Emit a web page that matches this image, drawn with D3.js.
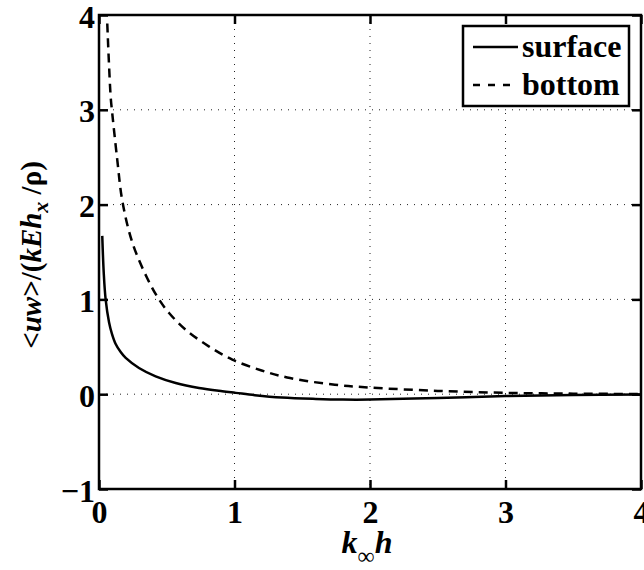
<!DOCTYPE html>
<html><head><meta charset="utf-8">
<script src="https://cdn.jsdelivr.net/npm/d3@7"></script>
<style>body{margin:0;background:#fff}svg{display:block}
svg text{font-family:"Liberation Serif","Times New Roman",Times,"Nimbus Roman","DejaVu Serif",serif !important;font-weight:bold}</style>
</head><body><svg id="c" width="644" height="570"></svg>
<script>
const xTicks = [0,1,2,3,4];
const yTicks = [-1,0,1,2,3,4];
const surfaceX = [0.024,0.035,0.049,0.074,0.095,0.123,0.16,0.197,0.295,0.418,0.566,0.738,0.91,1.01,1.15,1.35,1.6,1.8,2.0,2.5,3.0,3.5,4.0];
const surfaceY = [1.67,1.28,1.0,0.76,0.64,0.53,0.445,0.383,0.277,0.189,0.119,0.066,0.031,0.014,-0.01,-0.035,-0.05,-0.057,-0.057,-0.04,-0.02,-0.008,-0.003];
const bottomX = [0.061,0.086,0.098,0.135,0.172,0.246,0.357,0.443,0.517,0.64,0.81,0.984,1.2,1.41,1.74,2.0,2.5,3.0,3.5,4.0];
const bottomY = [3.91,3.14,2.96,2.47,2.04,1.60,1.22,1.0,0.857,0.68,0.505,0.365,0.25,0.17,0.10,0.07,0.035,0.014,0.006,0.002];
const legendLabels = ["surface","bottom"];

const svg = d3.select("#c");
const L=99,R=641,T=15,B=489;
const x = d3.scaleLinear().domain([0,4]).range([L,R]);
const y = d3.scaleLinear().domain([-1,4]).range([B,T]);

svg.append("defs").append("clipPath").attr("id","clip").append("rect")
  .attr("x",L).attr("y",T).attr("width",R-L).attr("height",B-T);

const g = svg.append("g");
g.selectAll(".gx").data(xTicks.slice(1,-1)).enter().append("line")
  .attr("x1",d=>x(d)).attr("x2",d=>x(d)).attr("y1",T).attr("y2",B)
  .attr("stroke","#222").attr("stroke-width",1).attr("stroke-dasharray","1,6");
g.selectAll(".gy").data(yTicks.slice(1,-1)).enter().append("line")
  .attr("y1",d=>y(d)).attr("y2",d=>y(d)).attr("x1",L).attr("x2",R)
  .attr("stroke","#222").attr("stroke-width",1).attr("stroke-dasharray","1,6");

const tl=9;
const xa = svg.append("g").attr("transform",`translate(0,${B})`)
  .call(d3.axisBottom(x).tickValues(xTicks).tickSizeInner(-tl).tickSizeOuter(0).tickFormat(d3.format("d")));
const xt = svg.append("g").attr("transform",`translate(0,${T})`)
  .call(d3.axisTop(x).tickValues(xTicks).tickSizeInner(-tl).tickSizeOuter(0).tickFormat(""));
const ya = svg.append("g").attr("transform",`translate(${L},0)`)
  .call(d3.axisLeft(y).tickValues(yTicks).tickSizeInner(-tl).tickSizeOuter(0).tickFormat(d=>d<0?"\u2212"+Math.abs(d):d));
const yr = svg.append("g").attr("transform",`translate(${R},0)`)
  .call(d3.axisRight(y).tickValues(yTicks).tickSizeInner(-tl).tickSizeOuter(0).tickFormat(""));
[xa,xt,ya,yr].forEach(a=>{
  a.attr("font-family",null).attr("font-size",null);
  a.select(".domain").remove();
  a.selectAll(".tick line").attr("stroke","#000").attr("stroke-width",2.5);
  a.selectAll("text").attr("fill","#000").style("font-size","32px");
});
ya.selectAll("text").attr("dy",null).attr("x",-4).attr("y",12);
xa.selectAll("text").attr("dy",null).attr("y",34);

const line = d3.line().x(d=>x(d[0])).y(d=>y(d[1])).curve(d3.curveCatmullRom.alpha(0.5));
const plot = svg.append("g").attr("clip-path","url(#clip)");
plot.append("path").datum(surfaceX.map((v,i)=>[v,surfaceY[i]])).attr("d",line)
  .attr("fill","none").attr("stroke","#000").attr("stroke-width",2.5);
plot.append("path").datum(bottomX.map((v,i)=>[v,bottomY[i]])).attr("d",line)
  .attr("fill","none").attr("stroke","#000").attr("stroke-width",2.5).attr("stroke-dasharray","9,6");

svg.append("rect").attr("x",L).attr("y",T).attr("width",R-L).attr("height",B-T)
  .attr("fill","none").attr("stroke","#000").attr("stroke-width",2.5);

const lg = svg.append("g");
lg.append("rect").attr("x",463).attr("y",26).attr("width",166).attr("height",80)
  .attr("fill","#fff").attr("stroke","#000").attr("stroke-width",2.5);
const dashes=[null,"7,8"];
legendLabels.forEach((lab,i)=>{
  const yy=47+i*38;
  lg.append("line").attr("x1",473).attr("x2",518).attr("y1",yy).attr("y2",yy)
    .attr("stroke","#000").attr("stroke-width",2.5).attr("stroke-dasharray",dashes[i]);
  lg.append("text").attr("x",522).attr("y",yy+10).style("font-size","32px").text(lab);
});

const xl = svg.append("text").attr("x",367).attr("y",553).attr("text-anchor","middle").style("font-size","32px");
xl.append("tspan").style("font-style","italic").text("k");
xl.append("tspan").attr("dy",11).style("font-size","24px").style("font-weight","normal").text("\u221e");
xl.append("tspan").attr("dy",-11).style("font-style","italic").text("h");

const yl = svg.append("text").attr("transform","translate(41,255) rotate(-90)").attr("text-anchor","middle").style("font-size","29px");
yl.append("tspan").text("<");
yl.append("tspan").style("font-style","italic").text("uw");
yl.append("tspan").text(">/(");
yl.append("tspan").style("font-style","italic").text("kEh");
yl.append("tspan").attr("dy",7).style("font-size","22px").style("font-style","italic").text("x");
yl.append("tspan").attr("dy",-7).text(" /\u03c1)");
</script></body></html>
